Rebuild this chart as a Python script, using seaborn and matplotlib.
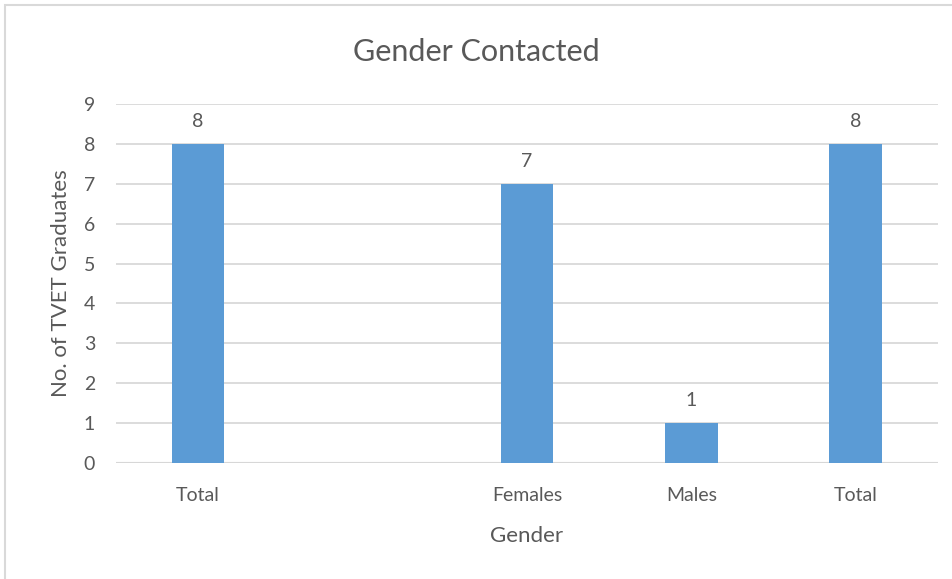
import numpy as np
import pandas as pd
import matplotlib
matplotlib.use('Agg')
import matplotlib.pyplot as plt
import matplotlib.patches as patches
import seaborn as sns

# Chart data (slot 2 is an empty category in the original)
categories = ["Total", "", "Females", "Males", "Total"]
counts = [8, np.nan, 7, 1, 8]
slots = [f"s{i}" for i in range(len(categories))]

df = pd.DataFrame({'slot': slots, 'count': counts})

sns.set_theme(style='white')
plt.rcParams['font.family'] = ['Lato', 'DejaVu Sans']
text_col = '#595959'
grid_col = '#D9D9D9'

fig = plt.figure(figsize=(9.52, 5.79), dpi=100)
ax = fig.add_axes([0.1218, 0.2003, 0.8635, 0.6201])

sns.barplot(data=df, x='slot', y='count', order=slots, color='#5B9BD5',
            width=0.32, saturation=1, linewidth=0, ax=ax,
            err_kws={'linewidth': 0})

# Value labels
for c in ax.containers:
    ax.bar_label(c, fmt='%g', padding=10, fontsize=14, color=text_col)

ax.set_ylim(0, 9)
ax.set_yticks(range(0, 10))
ax.set_xticks(range(len(categories)))
ax.set_xticklabels(categories)
ax.grid(axis='y', color=grid_col, linewidth=1.3)
ax.axhline(0, color='#C8C8C8', linewidth=1.5, zorder=0.5)
ax.set_axisbelow(True)
sns.despine(ax=ax, left=True, bottom=True, top=True, right=True)

ax.tick_params(axis='y', length=0, pad=15, labelsize=14, labelcolor=text_col)
ax.tick_params(axis='x', length=0, pad=17, labelsize=14, labelcolor=text_col)

ax.set_xlabel('Gender', fontsize=16, color=text_col, labelpad=16)
ax.set_ylabel('No. of TVET Graduates', fontsize=16, color=text_col, labelpad=9)
fig.text(0.5, 0.91, 'Gender Contacted', ha='center', va='center',
         fontsize=22, color=text_col)

# Chart frame
fig.patches.append(patches.Rectangle((5 / 952, -0.05), 1.2, 1 - 5 / 579 + 0.05,
                                     transform=fig.transFigure, fill=False,
                                     edgecolor=grid_col, linewidth=1.5))

fig.savefig('out.png', dpi=100)
